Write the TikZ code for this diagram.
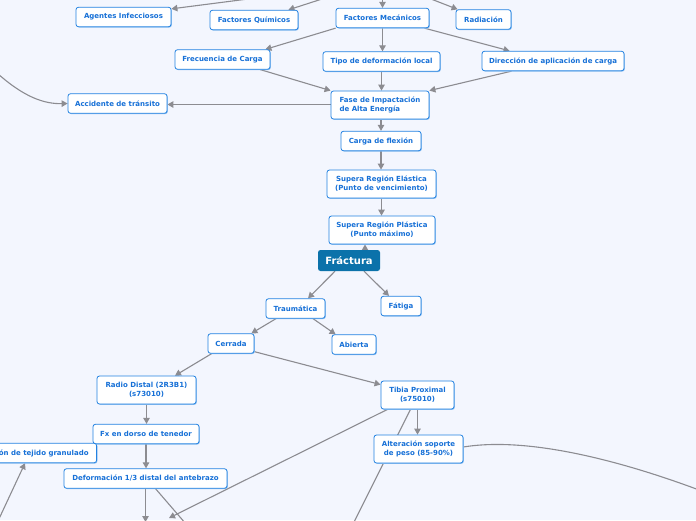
\documentclass[tikz,border=0pt]{standalone}
\usepackage{fontspec}
\setmainfont{DejaVu Sans}
\usetikzlibrary{arrows.meta,shadows}
\definecolor{bgc}{RGB}{243,246,254}
\definecolor{bord}{RGB}{35,130,225}
\definecolor{txt}{RGB}{22,112,215}
\definecolor{shd}{RGB}{140,190,240}
\definecolor{lnc}{RGB}{140,140,145}
\definecolor{frc}{RGB}{11,114,170}
\pgfdeclarelayer{bgl}
\pgfdeclarelayer{lines}
\pgfsetlayers{bgl,lines,main}
\begin{document}
\begin{tikzpicture}[x=1pt,y=-1pt,
 box/.style={draw=bord, line width=0.8pt, fill=white, rounded corners=2.5pt,
   font=\fontsize{7}{9}\selectfont\bfseries, text=txt, align=center, inner sep=1pt,
   minimum height=19.5pt,
   drop shadow={shadow xshift=0.8pt, shadow yshift=-0.8pt, fill=shd, opacity=1}},
 topic/.style={fill=frc, rounded corners=2.5pt, text=white,
   font=\fontsize{10}{12}\selectfont\bfseries, inner sep=1pt},
 arr/.style={draw=lnc, line width=1.1pt, -{Triangle[length=6pt,width=6.5pt]}},
 ln/.style={draw=lnc, line width=1.1pt}]
\useasboundingbox (0,0) rectangle (696,520);
\clip (0,0) rectangle (696,520);
\begin{pgfonlayer}{bgl}
\fill[bgc] (0,0) rectangle (696,520);
\end{pgfonlayer}

% nodes
\node[box, minimum width=95pt] (ag) at (123.5,17) {Agentes Infecciosos};
\node[box, minimum width=88pt] (qu) at (254,20) {Factores Químicos};
\node[box, minimum width=93pt] (fm) at (382.5,18) {Factores Mecánicos};
\node[box, minimum width=55pt] (ra) at (483.5,19.5) {Radiación};
\node[box, minimum width=95pt] (fc) at (222.5,59.5) {Frecuencia de Carga};
\node[box, minimum width=117pt] (tp) at (381.5,61.5) {Tipo de deformación local};
\node[box, minimum width=142pt] (di) at (553,61) {Dirección de aplicación de carga};
\node[box, minimum width=99pt] (ac) at (117.5,103.5) {Accidente de tránsito};
\node[box, minimum width=98pt, minimum height=28pt, align=left] (fa) at (380,105) {Fase de Impactación\\de Alta Energía};
\node[box, minimum width=80pt] (cf) at (381,141) {Carga de flexión};
\node[box, minimum width=109pt, minimum height=28pt] (el) at (381.5,184) {Supera Región Elástica\\(Punto de vencimiento)};
\node[box, minimum width=106pt, minimum height=28pt] (pl) at (382,230) {Supera Región Plástica\\(Punto máximo)};
\node[topic, minimum width=62pt, minimum height=21pt] (fr) at (349,260.5) {Fráctura};
\node[box, minimum width=59pt] (tr) at (295.5,308.5) {Traumática};
\node[box, minimum width=40pt] (ft) at (401,306) {Fátiga};
\node[box, minimum width=46pt] (ce) at (231,343.5) {Cerrada};
\node[box, minimum width=44pt] (ab) at (354,344.5) {Abierta};
\node[box, minimum width=99pt, minimum height=28pt] (rd) at (146.5,390) {Radio Distal (2R3B1)\\(s73010)};
\node[box, minimum width=73pt, minimum height=28pt] (tb) at (417.5,395) {Tibia Proximal\\(s75010)};
\node[box, minimum width=106pt] (fx) at (146,434) {Fx en dorso de tenedor};
\node[box, anchor=east, inner xsep=8pt] (tj) at (97,453) {Formación de tejido granulado};
\node[box, minimum width=163pt] (de) at (145.5,478.5) {Deformación 1/3 distal del antebrazo};
\node[box, minimum width=89pt, minimum height=28pt] (al) at (418.5,449) {Alteración soporte\\de peso (85-90\%)};

% free ends of connectors leaving the frame
\coordinate (pA) at (248,-1);
\coordinate (pQ) at (322,-1);
\coordinate (pM) at (382.5,-2);
\coordinate (pR) at (431,-1);
\coordinate (pL) at (-3,73);
\coordinate (pD1) at (145.5,522);
\coordinate (pD2) at (186,524);
\coordinate (pT1) at (169,518);
\coordinate (pT2) at (354,522);
\coordinate (pAl) at (725,500);
\coordinate (pTj) at (-2,521);

\begin{pgfonlayer}{lines}
\begin{scope}
\clip (0,0) rectangle (696,520);
\draw[arr] (pA) -- ([yshift=-2pt]ag.north east);
\draw[arr] (pQ) -- ([xshift=-10pt]qu.north east);
\draw[arr] (pM) -- (fm.north);
\draw[arr] (pR) -- ([xshift=2pt]ra.north west);
\draw[arr] (fm.south west) -- ([xshift=-5pt]fc.north east);
\draw[arr] (fm.south) -- (fm.south |- tp.north);
\draw[arr] ([xshift=-5pt]fm.south east) -- ([xshift=28pt]di.north west);
\draw[arr] ([xshift=-10pt]fc.south east) -- (fa.north west);
\draw[arr] (tp.south) -- (tp.south |- fa.north);
\draw[arr] ([xshift=30pt]di.south west) -- (fa.north east);
\draw[arr] ([yshift=0.5pt]fa.west) -- ([yshift=0.5pt]fa.west -| ac.east);
\draw[arr] (pL) .. controls (25,98) and (45,104) .. (ac.west);
\draw[arr] (cf.north |- fa.south) -- (cf.north);
\draw[arr] (cf.south) -- (cf.south |- el.north);
\draw[arr] (el.south) -- (el.south |- pl.north);
\draw[arr] ([xshift=16pt]fr.north) -- ([xshift=16pt]fr.north |- pl.south);
\draw[arr] ([xshift=-14pt]fr.south) -- ([xshift=12.5pt]tr.north);
\draw[arr] ([xshift=15pt]fr.south) -- ([xshift=-12pt]ft.north);
\draw[arr] ([xshift=-19.5pt]tr.south) -- ([xshift=-3pt]ce.north east);
\draw[arr] ([xshift=17.5pt]tr.south) -- ([xshift=4pt]ab.north west);
\draw[arr] ([xshift=4pt]ce.south west) -- ([xshift=28.5pt]rd.north);
\draw[arr] ([yshift=2pt]ce.south east) -- ([yshift=-4pt]tb.north west);
\draw[arr] (rd.south) -- (rd.south |- fx.north);
\draw[arr] (fx.south) -- (fx.south |- de.north);
\draw[arr] (de.south) -- (pD1);
\draw[ln] ([xshift=10pt]de.south) -- (pD2);
\draw[arr] ([xshift=-30pt]tb.south) -- (pT1);
\draw[ln] ([xshift=-7pt]tb.south) -- (pT2);
\draw[arr] (tb.south) -- (tb.south |- al.north);
\draw[ln] ([yshift=2pt]al.east) .. controls (530,436) and (630,462) .. (pAl);
\draw[arr] (pTj) -- ([xshift=-72pt]tj.south east);
\end{scope}
\end{pgfonlayer}
\end{tikzpicture}
\end{document}
